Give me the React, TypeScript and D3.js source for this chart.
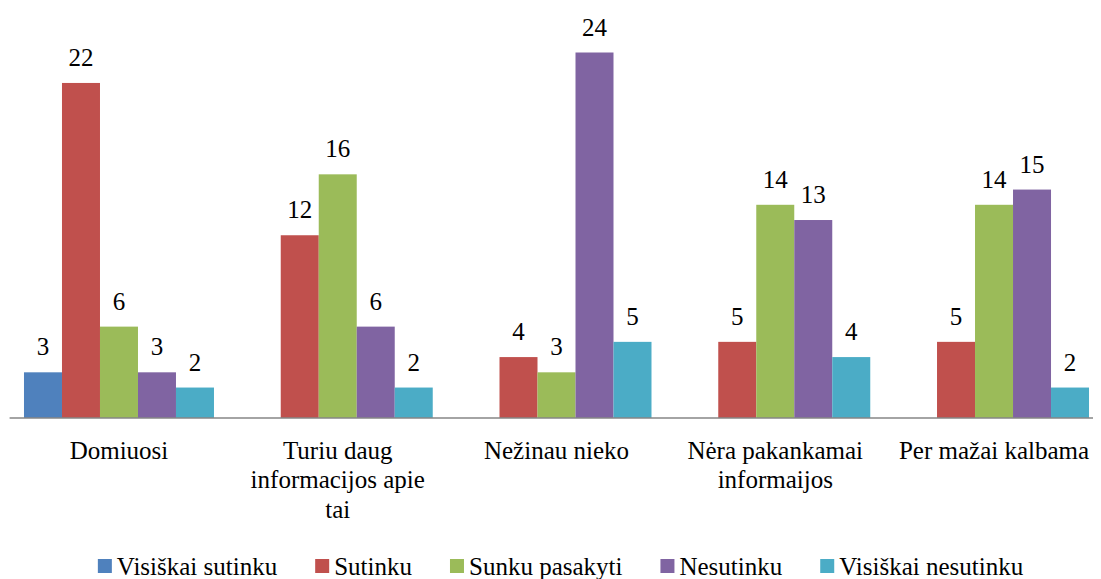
import React, { useLayoutEffect, useRef, useState } from 'react';
import { scaleBand, scaleLinear } from 'd3';

// categories, as the chart wraps them
const categories = ['Domiuosi', 'Turiu daug informacijos apie tai', 'Nežinau nieko', 'Nėra pakankamai informaijos', 'Per mažai kalbama'];
const categoryLines = [
  ['Domiuosi'],
  ['Turiu daug', 'informacijos apie', 'tai'],
  ['Nežinau nieko'],
  ['Nėra pakankamai', 'informaijos'],
  ['Per mažai kalbama'],
];

// series
const seriesNames = ['Visiškai sutinku', 'Sutinku', 'Sunku pasakyti', 'Nesutinku', 'Visiškai nesutinku'];
const seriesColors = ['#4F81BD', '#C0504D', '#9BBB59', '#8064A2', '#4BACC6'];

const visiskaiSutinku = [3, 0, 0, 0, 0];
const sutinku = [22, 12, 4, 5, 5];
const sunkuPasakyti = [6, 16, 3, 14, 14];
const nesutinku = [3, 6, 24, 13, 15];
const visiskaiNesutinku = [2, 2, 5, 4, 2];

const seriesValues = [visiskaiSutinku, sutinku, sunkuPasakyti, nesutinku, visiskaiNesutinku];

const W = 1101;
const H = 579;
const txt = { fontFamily: "'Times New Roman'", fontSize: 25 };

export default function App() {
  const baseline = 418;
  const legendRef = useRef<SVGGElement>(null);
  const [widths, setWidths] = useState<number[]>(seriesNames.map((s) => s.length * 10.5));

  // measure legend texts once they are drawn
  useLayoutEffect(() => {
    if (!legendRef.current) return;
    const nodes = legendRef.current.querySelectorAll('text');
    const w = Array.from(nodes).map((n) => (n as SVGTextElement).getComputedTextLength());
    if (w.some((v, i) => Math.abs(v - widths[i]) > 0.5)) setWidths(w);
  });

  // category band, then the bars inside it
  const x0 = scaleBand<string>().domain(categories).range([9.6, 1103.4]);
  const x1 = scaleBand<string>().domain(seriesNames).range([0, x0.bandwidth()]).paddingOuter(0.3785);
  const y = scaleLinear().domain([0, 24]).range([baseline, 52.5]);

  // legend layout from the text widths
  const box = 14;
  const gapText = 5;
  const gapItem = 38;
  const total = widths.reduce((a, w) => a + box + gapText + w, 0) + gapItem * (seriesNames.length - 1);
  const starts: number[] = [];
  let cx = 560.5 - total / 2;
  widths.forEach((w) => {
    starts.push(cx);
    cx += box + gapText + w + gapItem;
  });

  return (
    <svg width={W} height={H} style={{ display: 'block', marginLeft: -8, marginTop: -8 }}>
      {categories.map((cat, ci) => (
        <g key={cat} transform={`translate(${x0(cat)},0)`}>
          {seriesNames.map((s, si) => {
            const v = seriesValues[si][ci];
            if (!v) return null;
            const bx = x1(s) as number;
            return (
              <g key={s}>
                <rect x={bx} y={y(v)} width={x1.bandwidth()} height={baseline - y(v)} fill={seriesColors[si]} />
                <text x={bx + x1.bandwidth() / 2} y={y(v) - 17} textAnchor="middle" style={txt}>
                  {v}
                </text>
              </g>
            );
          })}
        </g>
      ))}

      {/* axis line */}
      <line x1={9.6} x2={W} y1={baseline} y2={baseline} stroke="#868686" strokeWidth={1.5} />

      {/* category labels */}
      {categories.map((cat, ci) => (
        <text key={cat} x={(x0(cat) as number) + x0.bandwidth() / 2} y={458.5} textAnchor="middle" style={txt}>
          {categoryLines[ci].map((line, li) => (
            <tspan key={li} x={(x0(cat) as number) + x0.bandwidth() / 2} dy={li === 0 ? 0 : 29.5}>
              {line}
            </tspan>
          ))}
        </text>
      ))}

      {/* legend */}
      <g ref={legendRef}>
        {seriesNames.map((name, i) => (
          <g key={name} transform={`translate(${starts[i]},0)`}>
            <rect x={0} y={559} width={box} height={box} fill={seriesColors[i]} />
            <text x={box + gapText} y={575} style={txt}>
              {name}
            </text>
          </g>
        ))}
      </g>
    </svg>
  );
}
